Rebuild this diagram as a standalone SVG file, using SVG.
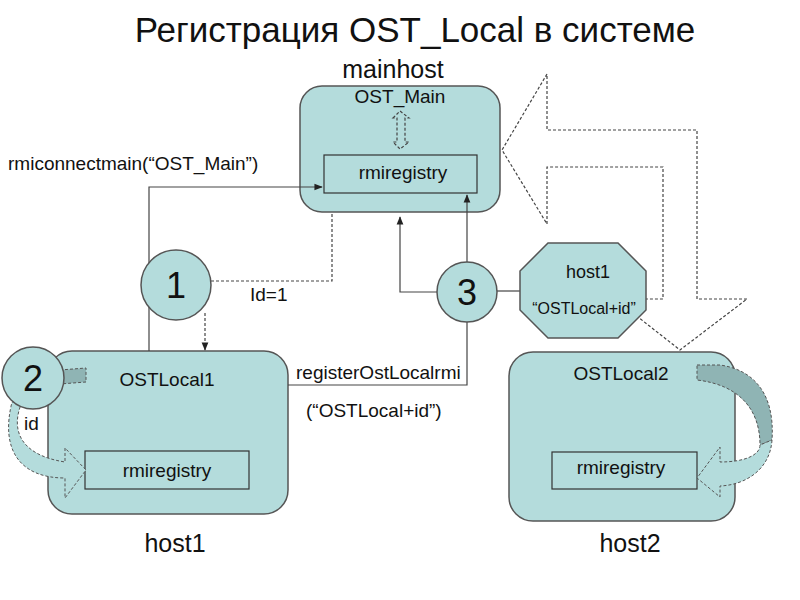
<svg xmlns="http://www.w3.org/2000/svg" width="800" height="600" viewBox="0 0 800 600">
<defs>
<style>
text{font-family:"Liberation Sans",Arial,sans-serif;fill:#111}
.box{fill:#b4dcdc;stroke:#555;stroke-width:1.5}
.in{fill:#b4dcdc;stroke:#333;stroke-width:1.2}
.ln{fill:none;stroke:#444;stroke-width:1.2}
.dl{fill:none;stroke:#444;stroke-width:1.2;stroke-dasharray:3,2}
.t{font-size:19px}
</style>
<marker id="ah" viewBox="0 0 10 10" refX="9" refY="5" markerWidth="7" markerHeight="7" orient="auto"><path d="M0,1L10,5L0,9z" fill="#222"/></marker>
</defs>
<rect width="800" height="600" fill="#fff"/>
<text x="415" y="42" font-size="35" text-anchor="middle">Регистрация OST_Local в системе</text>
<text x="393" y="78" font-size="25" text-anchor="middle">mainhost</text>
<text x="175" y="552" font-size="25" text-anchor="middle">host1</text>
<text x="630" y="552" font-size="25" text-anchor="middle">host2</text>

<g id="bigarrow"><path class="dl" d="M747,299L697,299L697,130L547,130L547,74L502,150L547,224L547,167L663,167L663,299L615,299L680,350Z"/></g>

<g id="mainhost">
<rect class="box" x="300" y="86" width="200" height="126" rx="22"/>
<text x="400" y="103" class="t" text-anchor="middle">OST_Main</text>
<path class="dl" d="M393,118L400,111L409,118L405,118L405,142L409,142L400,149L393,142L397,142L397,118Z" fill="none"/>
<rect class="in" x="324" y="155" width="153" height="38"/>
<text x="403" y="179" class="t" text-anchor="middle">rmiregistry</text>
</g>

<g id="ostlocal1">
<rect class="box" x="48" y="351" width="240" height="163" rx="24"/>
<text x="167" y="386" class="t" text-anchor="middle">OSTLocal1</text>
<rect class="in" x="85" y="451" width="164" height="38"/>
<text x="167" y="477" class="t" text-anchor="middle">rmiregistry</text>
</g>

<g id="ostlocal2">
<rect class="box" x="509" y="352" width="226" height="169" rx="24"/>
<text x="621" y="380" class="t" text-anchor="middle">OSTLocal2</text>
<rect class="in" x="552" y="452" width="145" height="37"/>
<text x="621" y="474" class="t" text-anchor="middle">rmiregistry</text>
</g>

<g id="connectors">
<path class="ln" d="M149,351V187H322" marker-end="url(#ah)"/>
<path class="dl" d="M211,281H332V212"/>
<path class="dl" d="M205,313V350" marker-end="url(#ah)"/>
<path class="ln" d="M437,292H400V217" marker-end="url(#ah)"/>
<path class="ln" d="M467,262V195" marker-end="url(#ah)"/>
<path class="ln" d="M467,322V385H288"/>
<path class="ln" d="M497,291H520"/>
<path d="M60,370L86,368L86,382L60,384Z" fill="#8fb4b4" stroke="#555" stroke-dasharray="3,2"/>
<path d="M22,402C10,430 20,455 65,462L65,448L86,470L65,498L65,478C20,478 0,450 12,402Z" fill="#b4dcdc" stroke="#555" stroke-dasharray="3,2"/>
<path d="M697,365L720,365C755,370 775,395 772,440L760,445C760,410 740,385 697,380Z" fill="#8fb4b4" stroke="#555" stroke-dasharray="3,2"/>
<path d="M772,440C770,470 745,485 720,486L720,497L697,478L720,447L720,462C745,462 760,455 760,445Z" fill="#b4dcdc" stroke="#555" stroke-dasharray="3,2"/>
</g>

<g id="n1"><circle class="box" cx="176" cy="285" r="35"/><text x="176" y="298" font-size="36" text-anchor="middle">1</text></g>
<g id="n2"><circle class="box" cx="33" cy="378" r="31"/><text x="33" y="391" font-size="36" text-anchor="middle">2</text></g>
<g id="n3"><circle class="box" cx="467" cy="292" r="30"/><text x="467" y="305" font-size="36" text-anchor="middle">3</text></g>
<g id="oct">
<path class="box" d="M548,243H618L646,271V310L618,338H548L520,310V271Z"/>
<text x="588" y="278" font-size="18" text-anchor="middle">host1</text>
<text x="584" y="314" font-size="16" text-anchor="middle">“OSTLocal+id”</text>
</g>

<text x="8" y="170" class="t">rmiconnectmain(“OST_Main”)</text>
<text x="250" y="301" class="t">Id=1</text>
<text x="296" y="379" class="t">registerOstLocalrmi</text>
<text x="306" y="417" class="t">(“OSTLocal+id”)</text>
<text x="24" y="430" class="t">id</text>
</svg>
